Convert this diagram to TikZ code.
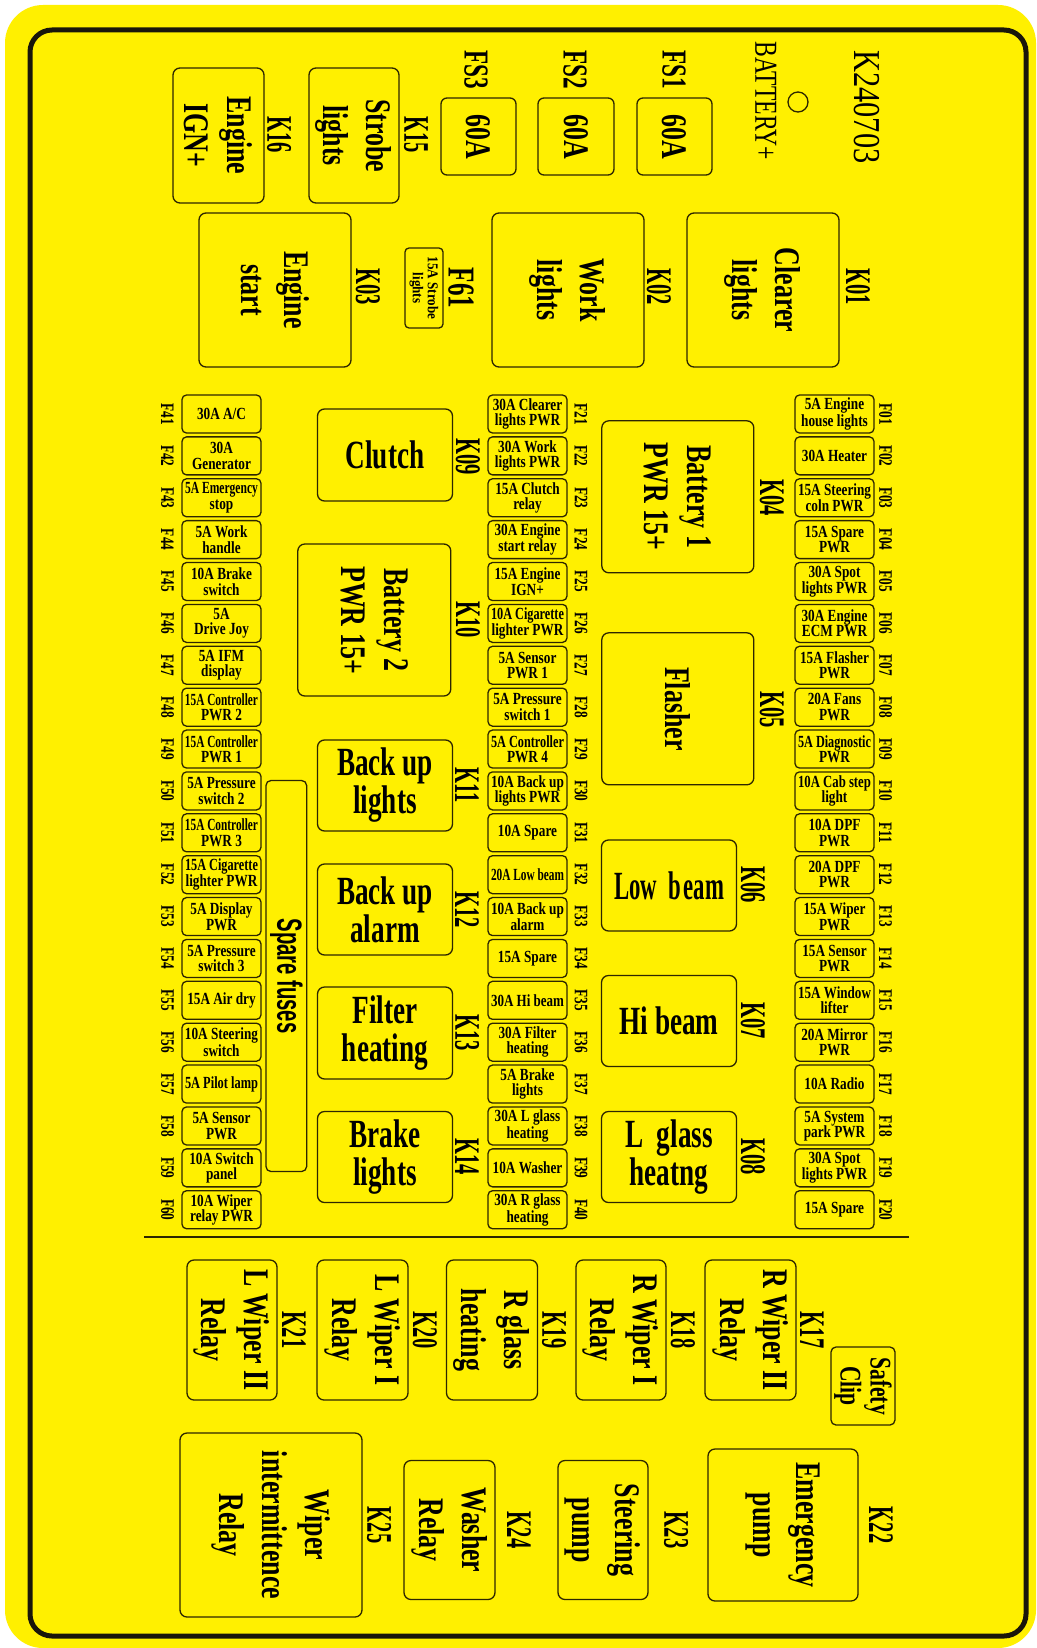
\documentclass[tikz,border=0pt]{standalone}
\usepackage{fontspec}
\usepackage{graphicx}
\setmainfont{Liberation Serif}
\newfontfamily\fsA[FakeStretch=0.78]{Liberation Serif}
\newfontfamily\fsB[FakeStretch=0.70]{Liberation Serif}
\newfontfamily\fsC[FakeStretch=0.68]{Liberation Serif}
\newfontfamily\fsD[FakeStretch=0.72]{Liberation Serif}
\newfontfamily\fsE[FakeStretch=0.57]{Liberation Serif}
\newfontfamily\fsF[FakeStretch=0.58]{Liberation Sans}
\newfontfamily\fsG[FakeStretch=0.80]{Liberation Serif}
\newfontfamily\fsH[FakeStretch=0.74]{Liberation Serif}
\newfontfamily\fsI[FakeStretch=0.87]{Liberation Serif}
\newfontfamily\fsJ[FakeStretch=0.66]{Liberation Serif}
\definecolor{bg}{RGB}{255,240,0}
\definecolor{lc}{RGB}{45,38,0}
\definecolor{fr}{RGB}{25,22,10}
\newsavebox\fitbox
\newcommand\fitl[2]{\sbox\fitbox{#2}\ifdim\wd\fitbox>#1\relax\resizebox{#1}{\height}{\usebox\fitbox}\else\usebox\fitbox\fi}
\newcommand\FL[1]{\fitl{73bp}{#1}}
\newcommand\fuse[5]{\node[fz] (#1) at (#2,{414+41.88*#3}) {#5};\node[flab] (l#1) at (#4,{414+41.88*#3}) {#1};}
\newcommand\fuseL[3]{\fuse{#1}{221.5}{#2}{167.5}{#3}}
\newcommand\fuseM[3]{\fuse{#1}{527.5}{#2}{581}{#3}}
\newcommand\fuseR[3]{\fuse{#1}{834.5}{#2}{885.5}{#3}}
\begin{document}
\begin{tikzpicture}[x=1bp,y=-1bp,
  bx/.style={draw=lc, line width=1.3bp, rounded corners=7bp, inner sep=0pt, align=center, text=black},
  fz/.style={bx, rounded corners=4.5bp, minimum width=79bp, minimum height=38bp, font=\fsA\bfseries\fontsize{17bp}{15.5bp}\selectfont},
  rb/.style={bx, font=\fsC\bfseries\fontsize{40bp}{38bp}\selectfont},
  rr/.style={bx, rotate=-90, font=\fsD\bfseries\fontsize{36bp}{43bp}\selectfont},
  klab/.style={rotate=-90, inner sep=0pt, font=\fsE\bfseries\fontsize{36bp}{36bp}\selectfont},
  fslab/.style={rotate=-90, inner sep=0pt, font=\fsJ\bfseries\fontsize{35bp}{35bp}\selectfont},
  flab/.style={rotate=-90, inner sep=0pt, font=\fsB\bfseries\fontsize{19bp}{19bp}\selectfont}]
\useasboundingbox (0,0) rectangle (1036,1648);
\fill[white] (0,0) rectangle (1036,1648);
\fill[bg, rounded corners=38bp] (5,5) rectangle (1036,1648);
\draw[fr, line width=5bp, rounded corners=22bp] (30,30) rectangle (1026,1636);

% ---------- top section ----------
\node[rotate=-90, inner sep=0pt, font=\fsG\fontsize{38bp}{38bp}\selectfont] (title) at (867,107) {K240703};
\node[draw=lc, circle, line width=1.3bp, minimum size=20bp, inner sep=0pt] (bat) at (798,102) {};
\node[rotate=-90, inner sep=0pt, font=\fsH\fontsize{32bp}{32bp}\selectfont] (batl) at (766,101) {BATTERY+};

\node[fslab] (lFS1) at (674,70) {FS1};
\node[rr, rounded corners=6bp, minimum width=77bp, minimum height=75bp] (FS1) at (674.5,136.5) {60A};
\node[fslab] (lFS2) at (575,70) {FS2};
\node[rr, rounded corners=6bp, minimum width=77bp, minimum height=76bp] (FS2) at (576,136.5) {60A};
\node[fslab] (lFS3) at (476,70) {FS3};
\node[rr, rounded corners=6bp, minimum width=77bp, minimum height=75bp] (FS3) at (478.5,136.5) {60A};

\node[rr, minimum width=135bp, minimum height=90bp] (K15) at (354,135.5) {Strobe\\lights};
\node[klab] (lK15) at (416,135) {K15};
\node[rr, minimum width=135bp, minimum height=91bp] (K16) at (218.5,135.5) {Engine\\IGN+};
\node[klab] (lK16) at (279,135) {K16};

\node[rr, minimum width=154bp, minimum height=152bp] (K01) at (763,290) {Clearer\\lights};
\node[klab] (lK01) at (858,287) {K01};
\node[rr, minimum width=154bp, minimum height=152bp] (K02) at (568,290) {Work\\lights};
\node[klab] (lK02) at (659,287) {K02};
\node[bx, rotate=-90, rounded corners=4bp, minimum width=80bp, minimum height=38bp, font=\fsI\bfseries\fontsize{15bp}{15bp}\selectfont] (F61) at (424,288) {15A Strobe\\lights};
\node[fslab, font=\fsJ\bfseries\fontsize{38bp}{38bp}\selectfont] (lF61) at (461,288) {F61};
\node[rr, minimum width=154bp, minimum height=152bp] (K03) at (275,290) {Engine\\start};
\node[klab] (lK03) at (368,287) {K03};

% ---------- middle relays ----------
\node[rb, minimum width=135bp, minimum height=92bp] (K09) at (385,455) {Clutch};
\node[klab] (lK09) at (468,457) {K09};
\node[rr, minimum width=152bp, minimum height=153bp] (K10) at (374.3,620) {Battery 2\\PWR 15+};
\node[klab] (lK10) at (468,620) {K10};
\node[rb, minimum width=135bp, minimum height=91bp] (K11) at (385,785.5) {Back up\\lights};
\node[klab] (lK11) at (467,785) {K11};
\node[rb, minimum width=135bp, minimum height=91bp] (K12) at (385,909.5) {Back up\\alarm};
\node[klab] (lK12) at (467,910) {K12};
\node[rb, minimum width=135bp, minimum height=92bp] (K13) at (385,1033) {Filter\\heating};
\node[klab] (lK13) at (467,1033) {K13};
\node[rb, minimum width=135bp, minimum height=91bp] (K14) at (385,1157) {Brake\\lights};
\node[klab] (lK14) at (467,1157) {K14};

\node[rr, minimum width=152bp, minimum height=152bp] (K04) at (677.8,496.8) {Battery 1\\PWR 15+};
\node[klab] (lK04) at (772,498) {K04};
\node[rr, minimum width=152bp, minimum height=152bp] (K05) at (677.8,708.8) {Flasher};
\node[klab] (lK05) at (772,710) {K05};
\node[rb, minimum width=135bp, minimum height=91bp] (K06) at (669,885.5) {\fitl{110bp}{Low\ \ b\kern3bp eam}};
\node[klab] (lK06) at (753,885) {K06};
\node[rb, minimum width=135bp, minimum height=91bp] (K07) at (669,1021) {Hi beam};
\node[klab] (lK07) at (753,1021) {K07};
\node[rb, minimum width=135bp, minimum height=91bp] (K08) at (669,1157) {L\ \ glass\\heatng};
\node[klab] (lK08) at (753,1157) {K08};

\node[bx, rotate=-90, rounded corners=5bp, minimum width=391bp, minimum height=40.7bp, font=\fsF\bfseries\fontsize{35bp}{35bp}\selectfont] (spare) at (286.3,976) {Spare fuses};

% ---------- fuses ----------
\fuseL{F41}{0}{\FL{30A A/C}}
\fuseL{F42}{1}{\FL{30A}\\\FL{Generator}}
\fuseL{F43}{2}{\FL{5A Emergency}\\\FL{stop}}
\fuseL{F44}{3}{\FL{5A Work}\\\FL{handle}}
\fuseL{F45}{4}{\FL{10A Brake}\\\FL{switch}}
\fuseL{F46}{5}{\FL{5A}\\\FL{Drive Joy}}
\fuseL{F47}{6}{\FL{5A IFM}\\\FL{display}}
\fuseL{F48}{7}{\FL{15A Controller}\\\FL{PWR 2}}
\fuseL{F49}{8}{\FL{15A Controller}\\\FL{PWR 1}}
\fuseL{F50}{9}{\FL{5A Pressure}\\\FL{switch 2}}
\fuseL{F51}{10}{\FL{15A Controller}\\\FL{PWR 3}}
\fuseL{F52}{11}{\FL{15A Cigarette}\\\FL{lighter PWR}}
\fuseL{F53}{12}{\FL{5A Display}\\\FL{PWR}}
\fuseL{F54}{13}{\FL{5A Pressure}\\\FL{switch 3}}
\fuseL{F55}{14}{\FL{15A Air dry}}
\fuseL{F56}{15}{\FL{10A Steering}\\\FL{switch}}
\fuseL{F57}{16}{\FL{5A Pilot lamp}}
\fuseL{F58}{17}{\FL{5A Sensor}\\\FL{PWR}}
\fuseL{F59}{18}{\FL{10A Switch}\\\FL{panel}}
\fuseL{F60}{19}{\FL{10A Wiper}\\\FL{relay PWR}}

\fuseM{F21}{0}{\FL{30A Clearer}\\\FL{lights PWR}}
\fuseM{F22}{1}{\FL{30A Work}\\\FL{lights PWR}}
\fuseM{F23}{2}{\FL{15A Clutch}\\\FL{relay}}
\fuseM{F24}{3}{\FL{30A Engine}\\\FL{start relay}}
\fuseM{F25}{4}{\FL{15A Engine}\\\FL{IGN+}}
\fuseM{F26}{5}{\FL{10A Cigarette}\\\FL{lighter PWR}}
\fuseM{F27}{6}{\FL{5A Sensor}\\\FL{PWR 1}}
\fuseM{F28}{7}{\FL{5A Pressure}\\\FL{switch 1}}
\fuseM{F29}{8}{\FL{5A Controller}\\\FL{PWR 4}}
\fuseM{F30}{9}{\FL{10A Back up}\\\FL{lights PWR}}
\fuseM{F31}{10}{\FL{10A Spare}}
\fuseM{F32}{11}{\FL{20A Low beam}}
\fuseM{F33}{12}{\FL{10A Back up}\\\FL{alarm}}
\fuseM{F34}{13}{\FL{15A Spare}}
\fuseM{F35}{14}{\FL{30A Hi beam}}
\fuseM{F36}{15}{\FL{30A Filter}\\\FL{heating}}
\fuseM{F37}{16}{\FL{5A Brake}\\\FL{lights}}
\fuseM{F38}{17}{\FL{30A L glass}\\\FL{heating}}
\fuseM{F39}{18}{\FL{10A Washer}}
\fuseM{F40}{19}{\FL{30A R glass}\\\FL{heating}}

\fuseR{F01}{0}{\FL{5A Engine}\\\FL{house lights}}
\fuseR{F02}{1}{\FL{30A Heater}}
\fuseR{F03}{2}{\FL{15A Steering}\\\FL{coln PWR}}
\fuseR{F04}{3}{\FL{15A Spare}\\\FL{PWR}}
\fuseR{F05}{4}{\FL{30A Spot}\\\FL{lights PWR}}
\fuseR{F06}{5}{\FL{30A Engine}\\\FL{ECM PWR}}
\fuseR{F07}{6}{\FL{15A Flasher}\\\FL{PWR}}
\fuseR{F08}{7}{\FL{20A Fans}\\\FL{PWR}}
\fuseR{F09}{8}{\FL{5A Diagnostic}\\\FL{PWR}}
\fuseR{F10}{9}{\FL{10A Cab step}\\\FL{light}}
\fuseR{F11}{10}{\FL{10A DPF}\\\FL{PWR}}
\fuseR{F12}{11}{\FL{20A DPF}\\\FL{PWR}}
\fuseR{F13}{12}{\FL{15A Wiper}\\\FL{PWR}}
\fuseR{F14}{13}{\FL{15A Sensor}\\\FL{PWR}}
\fuseR{F15}{14}{\FL{15A Window}\\\FL{lifter}}
\fuseR{F16}{15}{\FL{20A Mirror}\\\FL{PWR}}
\fuseR{F17}{16}{\FL{10A Radio}}
\fuseR{F18}{17}{\FL{5A System}\\\FL{park PWR}}
\fuseR{F19}{18}{\FL{30A Spot}\\\FL{lights PWR}}
\fuseR{F20}{19}{\FL{15A Spare}}

% ---------- divider ----------
\coordinate (dl) at (144,1237);
\coordinate (dr) at (909,1237);
\draw[lc, line width=1.3bp] (dl) -- (dr);

% ---------- bottom section ----------
\node[rr, minimum width=140bp, minimum height=90bp] (K21) at (232,1330) {L Wiper II\\Relay};
\node[klab] (lK21) at (294,1330) {K21};
\node[rr, minimum width=140bp, minimum height=91bp] (K20) at (362.5,1330) {L Wiper I\\Relay};
\node[klab] (lK20) at (425,1330) {K20};
\node[rr, minimum width=140bp, minimum height=91bp] (K19) at (492,1330) {R glass\\heating};
\node[klab] (lK19) at (554,1330) {K19};
\node[rr, minimum width=140bp, minimum height=90bp] (K18) at (621,1330) {R Wiper I\\Relay};
\node[klab] (lK18) at (683,1330) {K18};
\node[rr, minimum width=140bp, minimum height=91bp] (K17) at (750.5,1330) {R Wiper II\\Relay};
\node[klab] (lK17) at (812,1330) {K17};
\node[rr, rounded corners=5bp, minimum width=78bp, minimum height=64bp, font=\fsD\bfseries\fontsize{30bp}{30bp}\selectfont] (clip) at (863,1386) {Safety\\Clip};

\node[rr, minimum width=184bp, minimum height=182bp] (K25) at (271,1525) {Wiper\\intermittence\\Relay};
\node[klab] (lK25) at (379,1525) {K25};
\node[rr, minimum width=139bp, minimum height=91bp] (K24) at (449.5,1530) {Washer\\Relay};
\node[klab] (lK24) at (519,1530) {K24};
\node[rr, minimum width=139bp, minimum height=90bp] (K23) at (603,1530) {Steering\\pump};
\node[klab] (lK23) at (676,1530) {K23};
\node[rr, minimum width=152bp, minimum height=150bp] (K22) at (783,1525) {Emergency\\pump};
\node[klab] (lK22) at (881,1525) {K22};
\end{tikzpicture}
\end{document}
